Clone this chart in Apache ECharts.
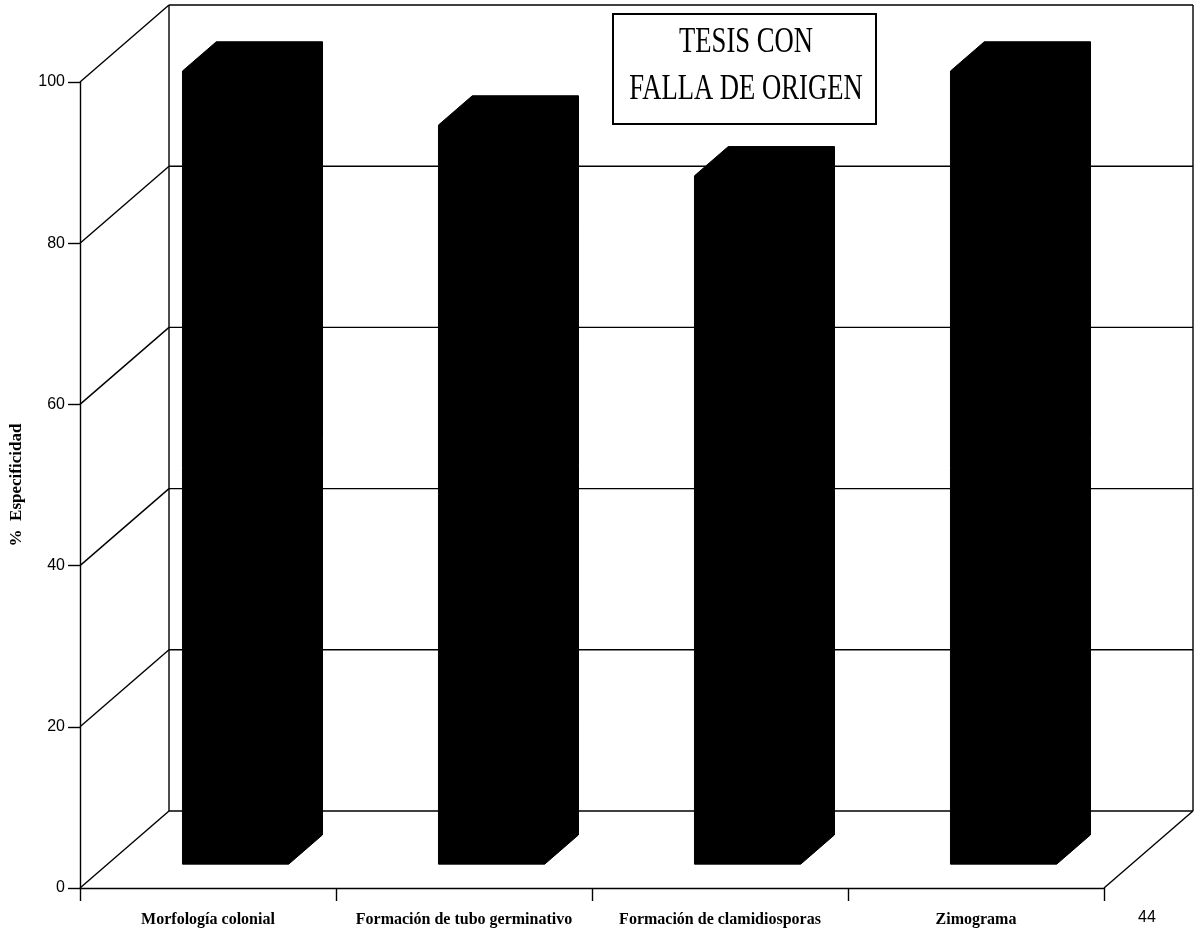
<!DOCTYPE html>
<html>
<head>
<meta charset="utf-8">
<script src="https://cdn.jsdelivr.net/npm/echarts@6/dist/echarts.min.js"></script>
<style>
html,body{margin:0;padding:0;background:#fff;}
#chart{width:1197px;height:930px;}
</style>
</head>
<body>
<div id="chart"></div>
<script>
// ---- data ----
var categories = ['Morfología colonial', 'Formación de tubo germinativo', 'Formación de clamidiosporas', 'Zimograma'];
var especificidad = [98.4, 91.7, 85.4, 98.4];
var yTicks = [0, 20, 40, 60, 80, 100];

// ---- 3D look constants ----
var DEPTH_X = 89, DEPTH_Y = -77;       // full depth of the box
var BAR_FRONT = 0.31, BAR_DEPTH = 0.38; // bar position inside the depth
var BAR_WIDTH_RATIO = 0.415;

var chart = echarts.init(document.getElementById('chart'), null, {renderer: 'canvas'});

function wallsRender(params, api) {
  var cs = params.coordSys;
  var x0 = cs.x, x1 = cs.x + cs.width;
  var children = [];
  var ls = {stroke: '#000', lineWidth: 1.4};
  var yBottom = api.coord([0, 0])[1];
  var yTop = api.coord([0, 100])[1];
  children.push({type: 'line', shape: {x1: x0 + DEPTH_X, y1: yTop + DEPTH_Y, x2: x0 + DEPTH_X, y2: yBottom + DEPTH_Y}, style: ls});
  children.push({type: 'line', shape: {x1: x1 + DEPTH_X, y1: yTop + DEPTH_Y, x2: x1 + DEPTH_X, y2: yBottom + DEPTH_Y}, style: ls});
  children.push({type: 'line', shape: {x1: x1, y1: yBottom, x2: x1 + DEPTH_X, y2: yBottom + DEPTH_Y}, style: ls});
  yTicks.forEach(function (v) {
    var y = api.coord([0, v])[1];
    children.push({type: 'line', shape: {x1: x0, y1: y, x2: x0 + DEPTH_X, y2: y + DEPTH_Y}, style: ls});
    children.push({type: 'line', shape: {x1: x0 + DEPTH_X, y1: y + DEPTH_Y, x2: x1 + DEPTH_X, y2: y + DEPTH_Y}, style: ls});
  });
  return {type: 'group', children: children};
}

function barRender(params, api) {
  var idx = api.value(0);
  var val = api.value(1);
  var c0 = api.coord([idx, 0]);
  var cv = api.coord([idx, val]);
  var band = api.size([1, 0])[0];
  var w = band * BAR_WIDTH_RATIO;
  var ox = DEPTH_X * BAR_FRONT, oy = DEPTH_Y * BAR_FRONT;
  var bx = DEPTH_X * BAR_DEPTH, by = DEPTH_Y * BAR_DEPTH;
  var fx1 = c0[0] + ox - w / 2, fx2 = c0[0] + ox + w / 2;
  var fb = c0[1] + oy, ft = cv[1] + oy;
  var pts = [
    [fx1, fb], [fx1, ft], [fx1 + bx, ft + by], [fx2 + bx, ft + by],
    [fx2 + bx, fb + by], [fx2, fb]
  ];
  return {type: 'polygon', shape: {points: pts}, style: {fill: '#000', stroke: '#000', lineWidth: 1}};
}

var option = {
  backgroundColor: '#fff',
  animation: false,
  grid: {left: 80, right: 93, top: 82, bottom: 42, containLabel: false, outerBoundsMode: 'none'},
  xAxis: {
    type: 'category',
    data: categories,
    boundaryGap: true,
    axisLine: {lineStyle: {color: '#000', width: 1.4}},
    axisTick: {show: true, length: 13, lineStyle: {color: '#000', width: 1.4}},
    axisLabel: {
      color: '#000', fontFamily: 'Liberation Serif', fontWeight: 'bold', fontSize: 16,
      margin: 24, interval: 0
    },
    splitLine: {show: false}
  },
  yAxis: {
    type: 'value',
    min: 0, max: 100, interval: 20,
    name: '%  Especificidad',
    nameLocation: 'middle',
    nameRotate: 90,
    nameGap: 55,
    nameTextStyle: {color: '#000', fontFamily: 'Liberation Serif', fontWeight: 'bold', fontSize: 17},
    axisLine: {show: true, lineStyle: {color: '#000', width: 1.4}},
    axisTick: {show: true, length: 12, lineStyle: {color: '#000', width: 1.4}},
    axisLabel: {color: '#000', fontFamily: 'Liberation Sans', fontSize: 16, margin: 15},
    splitLine: {show: false}
  },
  series: [
    {
      type: 'custom',
      name: 'walls',
      renderItem: wallsRender,
      data: [[0, 0]],
      z: 1,
      silent: true
    },
    {
      type: 'custom',
      name: '% Especificidad',
      renderItem: barRender,
      data: especificidad.map(function (v, i) { return [i, v]; }),
      encode: {x: 0, y: 1},
      z: 3
    }
  ],
  graphic: [
    {
      type: 'rect', left: 612, top: 13, z: 10,
      shape: {width: 263, height: 110},
      style: {fill: '#fff', stroke: '#000', lineWidth: 2}
    },
    {
      type: 'text', z: 11, x: 746, y: 43, scaleX: 0.74,
      style: {text: 'TESIS CON', fill: '#000', font: '36px "Liberation Serif"', textAlign: 'center', textVerticalAlign: 'middle'}
    },
    {
      type: 'text', z: 11, x: 746, y: 90, scaleX: 0.74,
      style: {text: 'FALLA DE ORIGEN', fill: '#000', font: '36px "Liberation Serif"', textAlign: 'center', textVerticalAlign: 'middle'}
    },
    {
      type: 'text', z: 11, x: 1147, y: 918,
      style: {text: '44', fill: '#000', font: '16px "Liberation Sans"', textAlign: 'center', textVerticalAlign: 'middle'}
    }
  ]
};
chart.setOption(option);
</script>
</body>
</html>
